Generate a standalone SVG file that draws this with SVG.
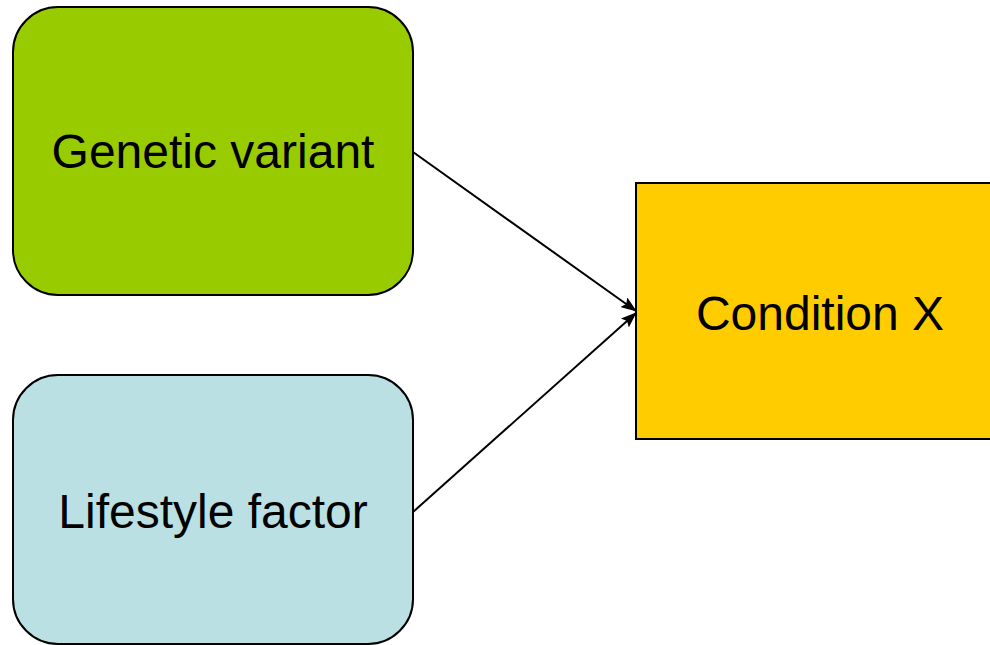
<svg xmlns="http://www.w3.org/2000/svg" width="990" height="645" viewBox="0 0 990 645">
  <style>
    .box { stroke: #000; stroke-width: 2; }
    .label { font-family: "Liberation Sans", Arial, sans-serif; font-size: 48px; fill: #000; text-anchor: middle; }
    .edge { stroke: #000; stroke-width: 2; fill: none; marker-end: url(#arrow); }
  </style>
  <defs>
    <marker id="arrow" viewBox="0 0 16 12" refX="15" refY="6" markerWidth="16" markerHeight="12" markerUnits="userSpaceOnUse" orient="auto">
      <path d="M0,0 L16,6 L0,12 L3,6 z" fill="#000"/>
    </marker>
  </defs>
  <rect width="990" height="645" fill="#fff"/>

  <g id="connectors">
    <line class="edge" x1="413" y1="152" x2="636" y2="311"/>
    <line class="edge" x1="413" y1="512" x2="636" y2="313"/>
  </g>

  <g id="genetic-variant">
    <rect class="box" x="13" y="7" width="400" height="288" rx="45" ry="45" fill="#99CC00"/>
    <text class="label" x="213" y="168">Genetic variant</text>
  </g>

  <g id="lifestyle-factor">
    <rect class="box" x="13" y="375" width="400" height="269" rx="45" ry="45" fill="#BBE0E3"/>
    <text class="label" x="213" y="528">Lifestyle factor</text>
  </g>

  <g id="condition-x">
    <rect class="box" x="636" y="183" width="370" height="256" fill="#FFCC00"/>
    <text class="label" x="820" y="330">Condition X</text>
  </g>
</svg>
